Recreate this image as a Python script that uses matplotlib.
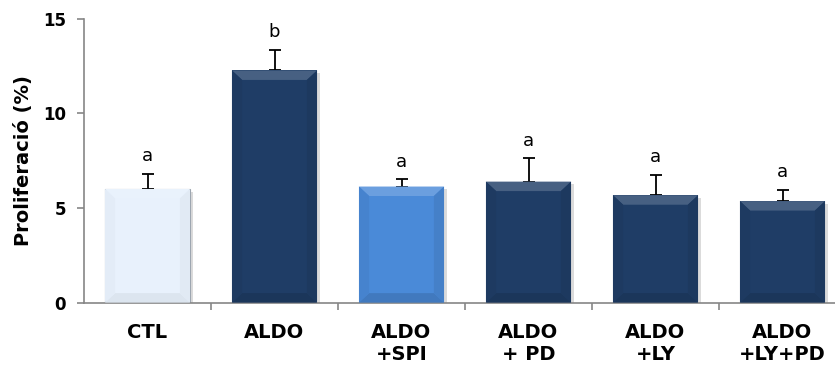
import numpy as np
import matplotlib.pyplot as plt
from matplotlib.patches import Polygon
from matplotlib.colors import to_rgb
import matplotlib.patheffects as pe

# data
groups = ["CTL", "ALDO", "ALDO\n+SPI", "ALDO\n+ PD", "ALDO\n+LY", "ALDO\n+LY+PD"]
means = [6.0, 12.26, 6.13, 6.39, 5.67, 5.36]
errors = [0.8, 1.09, 0.39, 1.24, 1.08, 0.60]
letters = ["a", "b", "a", "a", "a", "a"]
colors = ["#E8F1FC", "#1F3D66", "#4A8AD8", "#1F3D66", "#1F3D66", "#1F3D66"]


def shade(c, f):
    r = np.array(to_rgb(c))
    if f > 0:
        r = r + (1 - r) * f
    else:
        r = r * (1 + f)
    return tuple(np.clip(r, 0, 1))


fig = plt.figure(figsize=(8.35, 3.73), dpi=100)
ax = fig.add_axes([84 / 835, 70.4 / 373, 762 / 835, 284 / 373])

x = np.arange(len(groups))
bars = ax.bar(x, means, width=0.67, color=colors, zorder=2,
              edgecolor=["#9AA3AD"] + ["none"] * 5, linewidth=0.8)
for b in bars:
    b.set_path_effects([pe.SimplePatchShadow(offset=(2, -2), shadow_rgbFace="#888888", alpha=0.3),
                        pe.Normal()])

# bevel look
bx, by = 0.08, 0.5
for b, c in zip(bars, colors):
    x0, y0, w, h = b.get_x(), b.get_y(), b.get_width(), b.get_height()
    x1, y1 = x0 + w, y0 + h
    top = [(x0, y1), (x1, y1), (x1 - bx, y1 - by), (x0 + bx, y1 - by)]
    bot = [(x0, y0), (x1, y0), (x1 - bx, y0 + by), (x0 + bx, y0 + by)]
    lft = [(x0, y0), (x0, y1), (x0 + bx, y1 - by), (x0 + bx, y0 + by)]
    rgt = [(x1, y0), (x1, y1), (x1 - bx, y1 - by), (x1 - bx, y0 + by)]
    light = 0.05 if c == "#E8F1FC" else 0.18
    dark = -0.05 if c == "#E8F1FC" else -0.12
    ax.add_patch(Polygon(top, closed=True, color=shade(c, light), lw=0, zorder=3))
    ax.add_patch(Polygon(bot, closed=True, color=shade(c, dark), lw=0, zorder=3))
    ax.add_patch(Polygon(lft, closed=True, color=shade(c, dark * 0.4), lw=0, zorder=3))
    ax.add_patch(Polygon(rgt, closed=True, color=shade(c, dark * 0.6), lw=0, zorder=3))

ax.errorbar(x, means, yerr=[np.zeros(len(errors)), errors], fmt="none",
            ecolor="black", elinewidth=1.3, capsize=4, capthick=1.3, zorder=1)

for xi, m, e, t in zip(x, means, errors, letters):
    ax.text(xi, m + e + 0.45, t, ha="center", va="bottom", fontsize=13)

ax.set_xlim(-0.5, 5.5)
ax.set_ylim(0, 15)
ax.set_yticks([0, 5, 10, 15])
ax.set_xticks(x)
ax.set_xticklabels(groups, fontsize=14, fontweight="bold", linespacing=1.15)
ax.set_xticks(np.arange(0.5, 6, 1), minor=True)
ax.tick_params(axis="x", which="major", length=0, pad=15)
ax.tick_params(axis="x", which="minor", length=5, color="#868686", width=1.2)
ax.tick_params(axis="y", length=5, color="#868686", width=1.2, pad=8, labelsize=12)
for lab in ax.get_yticklabels():
    lab.set_fontweight("bold")

ax.set_ylabel("Proliferació (%)", fontsize=14, fontweight="bold")
ax.yaxis.set_label_coords(-0.067, 0.5)

for s in ["top", "right"]:
    ax.spines[s].set_visible(False)
for s in ["left", "bottom"]:
    ax.spines[s].set_color("#868686")
    ax.spines[s].set_linewidth(1.2)

fig.savefig("out.png", dpi=100)
